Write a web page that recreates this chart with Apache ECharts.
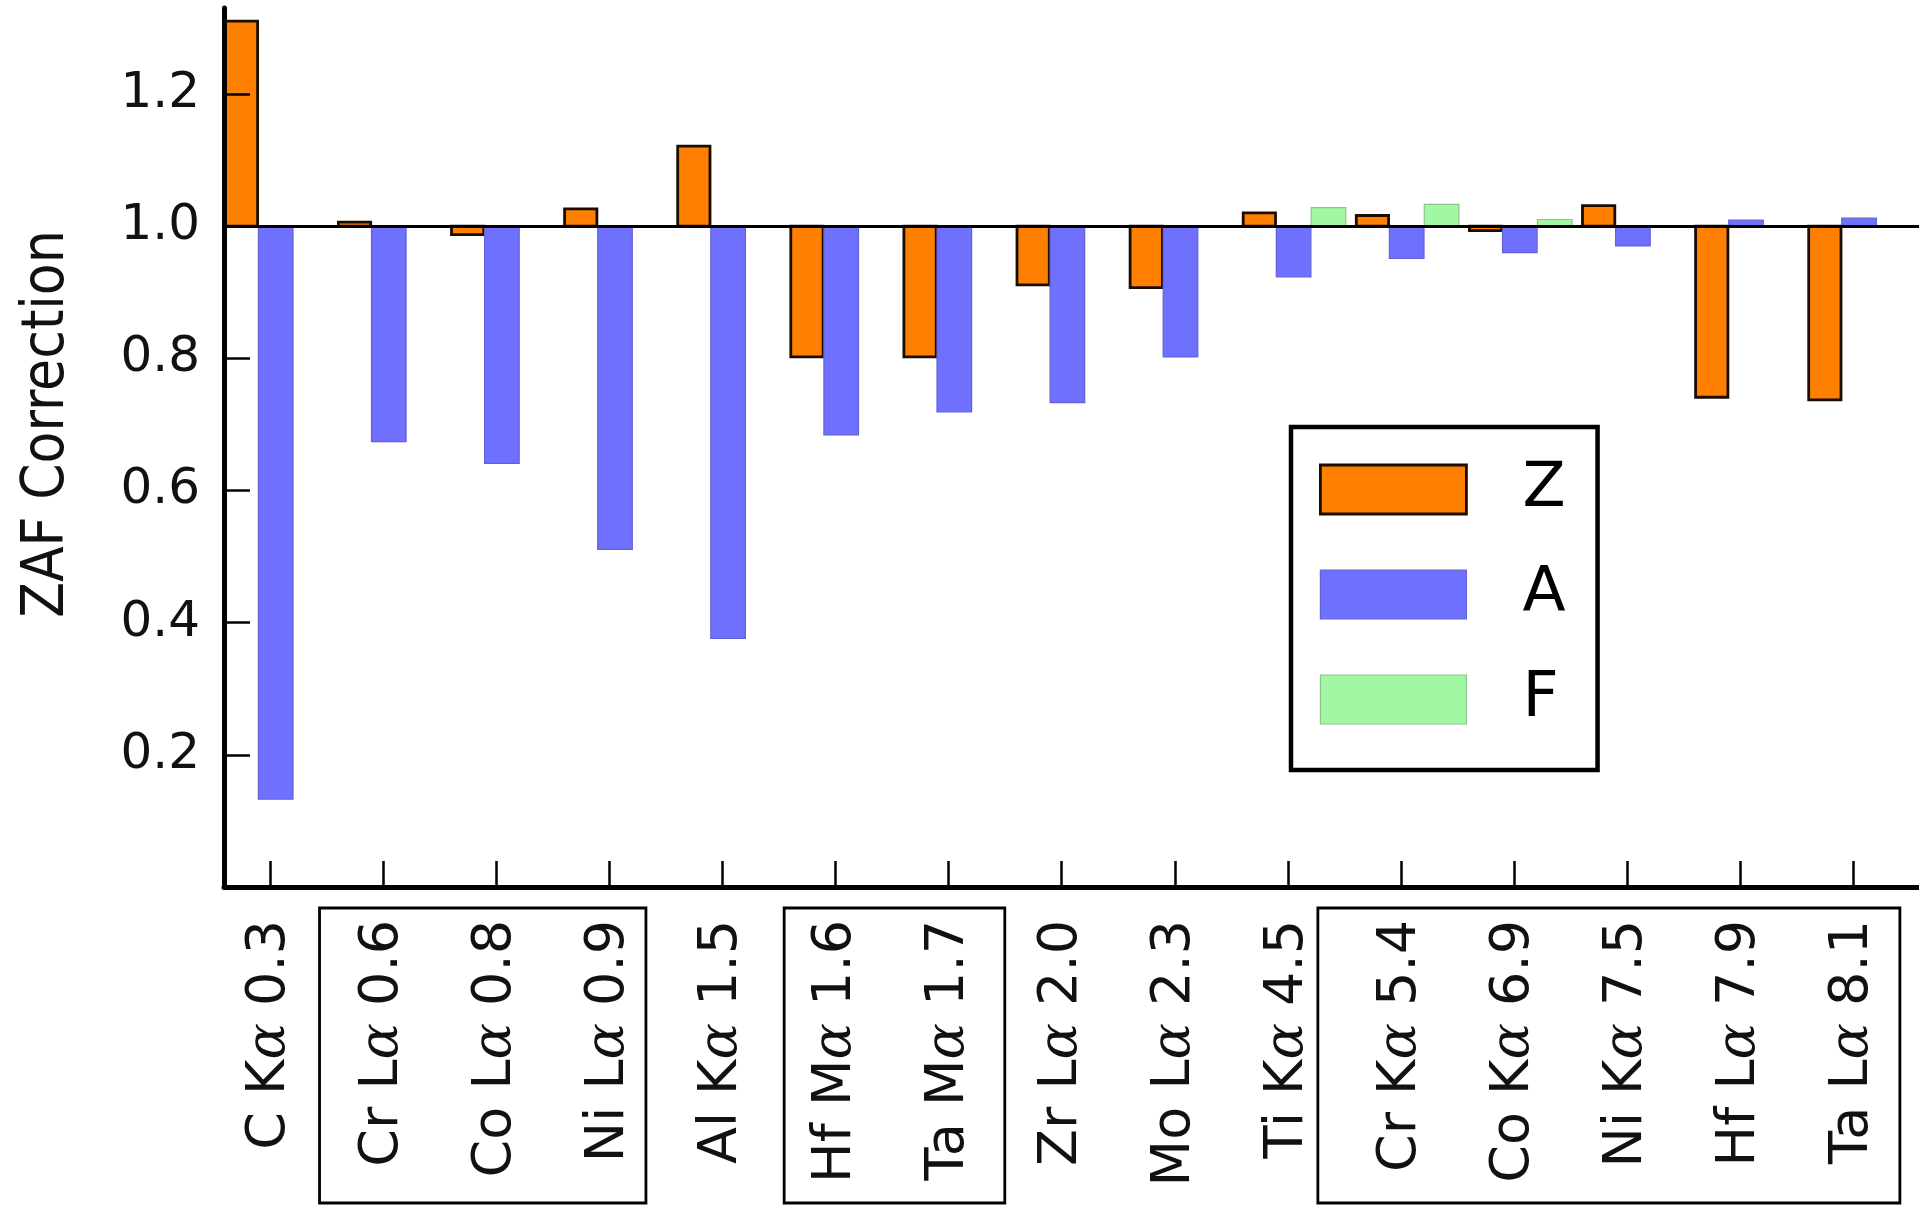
<!DOCTYPE html>
<html>
<head>
<meta charset="utf-8">
<script src="https://cdn.jsdelivr.net/npm/echarts@6/dist/echarts.min.js"></script>
<style>
html,body{margin:0;padding:0;background:#fff;}
#chart{width:1919px;height:1207px;}
</style>
</head>
<body>
<div id="chart"></div>
<script>
// ---- data ----
const elements = ['C','Cr','Co','Ni','Al','Hf','Ta','Zr','Mo','Ti','Cr','Co','Ni','Hf','Ta'];
const lines    = ['K','L','L','L','K','M','M','L','L','K','K','K','K','L','L'];
const energies = ['0.3','0.6','0.8','0.9','1.5','1.6','1.7','2.0','2.3','4.5','5.4','6.9','7.5','7.9','8.1'];
const zValues = [1.31, 1.006, 0.987, 1.026, 1.121, 0.802, 0.802, 0.911, 0.907, 1.020, 1.016, 0.993, 1.031, 0.741, 0.737];
const aValues = [0.133, 0.674, 0.641, 0.511, 0.376, 0.684, 0.719, 0.733, 0.802, 0.923, 0.951, 0.960, 0.970, 1.009, 1.012];
const fValues = [1.0, 1.0, 1.0, 1.0, 1.0, 1.0, 1.0, 1.0, 1.0, 1.028, 1.033, 1.010, 1.0, 1.0, 1.0];
const yTicks = [0.2, 0.4, 0.6, 0.8, 1.0, 1.2];
const baseline = 1.0;
// label groups (boxed): [first index, last index, left pad, right pad] in category units
const groups = [[1,3,-0.562,0.324],[5,6,-0.454,0.497],[10,14,-0.735,0.411]];

const catIdx = elements.map((_, i) => i);
const chart = echarts.init(document.getElementById('chart'), null, {renderer:'canvas'});

function makeRender(off, w, style) {
  return function (params, api) {
    const x = api.value(0), v = api.value(1);
    const p1 = api.coord([x, baseline]);
    const p2 = api.coord([x, v]);
    const h = Math.abs(p1[1] - p2[1]);
    if (h < 0.8) return null;
    return {
      type: 'rect',
      shape: {x: p1[0] + off, y: Math.min(p1[1], p2[1]), width: w, height: h},
      style: style
    };
  };
}

const zStyle = {fill:'#FF8000', stroke:'#1a0d00', lineWidth:2.8};
const aStyle = {fill:'#7070FF', stroke:'#6262d6', lineWidth:1.2};
const fStyle = {fill:'#A2F8A2', stroke:'#8cc48c', lineWidth:1.2};

const option = {
  backgroundColor: '#fff',
  animation: false,
  grid: {left: 224, right: 0, top: 8, bottom: 320, containLabel: false},
  xAxis: {
    type: 'value', min: -0.4067, max: 14.58,
    splitLine: {show: false},
    axisLine: {show: true, onZero: false, lineStyle: {color: '#000', width: 5}},
    axisTick: {show: true, inside: true, length: 26, customValues: catIdx, lineStyle: {color: '#000', width: 2.5}},
    axisLabel: {
      show: true, rotate: 90, margin: 33, customValues: catIdx,
      formatter: function (v) {
        const i = Math.round(v);
        return '{n|' + elements[i] + ' ' + lines[i] + '}{a|α}{n| ' + energies[i] + '}';
      },
      rich: {
        n: {fontFamily: 'DejaVu Sans', fontSize: 54, color: '#111'},
        a: {fontFamily: 'DejaVu Serif', fontStyle: 'italic', fontSize: 54, color: '#111'}
      }
    }
  },
  yAxis: {
    type: 'value', min: 0, max: 1.33, z: 10,
    splitLine: {show: false},
    axisLine: {show: true, onZero: false, lineStyle: {color: '#000', width: 5}},
    axisTick: {show: true, inside: true, length: 26, customValues: yTicks, lineStyle: {color: '#000', width: 2.5}},
    axisLabel: {
      show: true, margin: 24, customValues: yTicks,
      formatter: v => v.toFixed(1),
      fontFamily: 'DejaVu Sans', fontSize: 50, color: '#111'
    }
  },
  legend: {
    orient: 'vertical', left: 1291, top: 427,
    padding: [31, 32, 39, 28],
    itemWidth: 146, itemHeight: 49, itemGap: 42,
    borderColor: '#000', borderWidth: 4.5, backgroundColor: '#fff',
    selectedMode: false,
    textStyle: {fontFamily: 'DejaVu Sans', fontSize: 63, color: '#000', lineHeight: 49, padding: [0, 0, 0, 51]},
    data: [
      {name: 'Z', icon: 'rect', itemStyle: {color: '#FF8000', borderColor: '#1a0d00', borderWidth: 2.8}},
      {name: 'A', icon: 'rect', itemStyle: {color: '#7070FF', borderColor: '#6262d6', borderWidth: 1.2}},
      {name: 'F', icon: 'rect', itemStyle: {color: '#A2F8A2', borderColor: '#8cc48c', borderWidth: 1.2}}
    ]
  },
  series: [
    {type: 'custom', name: 'Z', renderItem: makeRender(-44.7, 32.3, zStyle), encode: {x: 0, y: 1},
     itemStyle: {color: '#FF8000'}, data: zValues.map((v, i) => [i, v]), z: 2},
    {type: 'custom', name: 'A', renderItem: makeRender(-11.6, 34.6, aStyle), encode: {x: 0, y: 1},
     itemStyle: {color: '#7070FF'}, data: aValues.map((v, i) => [i, v]), z: 2},
    {type: 'custom', name: 'F', renderItem: makeRender(23.3, 34.6, fStyle), encode: {x: 0, y: 1},
     itemStyle: {color: '#A2F8A2'}, data: fValues.map((v, i) => [i, v]), z: 2,
     markLine: {silent: true, symbol: 'none', z: 6, label: {show: false},
       lineStyle: {color: '#000', width: 3, type: 'solid'},
       data: [{yAxis: baseline}]}}
  ],
  graphic: [
    {id: 'ytitle', type: 'text', x: 48, y: 424, rotation: Math.PI / 2,
     style: {text: 'ZAF Correction', fontFamily: 'DejaVu Sans Condensed', fontSize: 58, fill: '#111',
             align: 'center', verticalAlign: 'middle'}}
  ]
};
chart.setOption(option);

// boxes around groups of axis labels
const boxes = groups.map((g, k) => {
  const x0 = chart.convertToPixel({xAxisIndex: 0}, g[0] + g[2]);
  const x1 = chart.convertToPixel({xAxisIndex: 0}, g[1] + g[3]);
  return {id: 'box' + k, type: 'rect', z: 20,
    shape: {x: x0, y: 908, width: x1 - x0, height: 295},
    style: {fill: 'none', stroke: '#000', lineWidth: 2.8}};
});
chart.setOption({graphic: boxes});
</script>
</body>
</html>
